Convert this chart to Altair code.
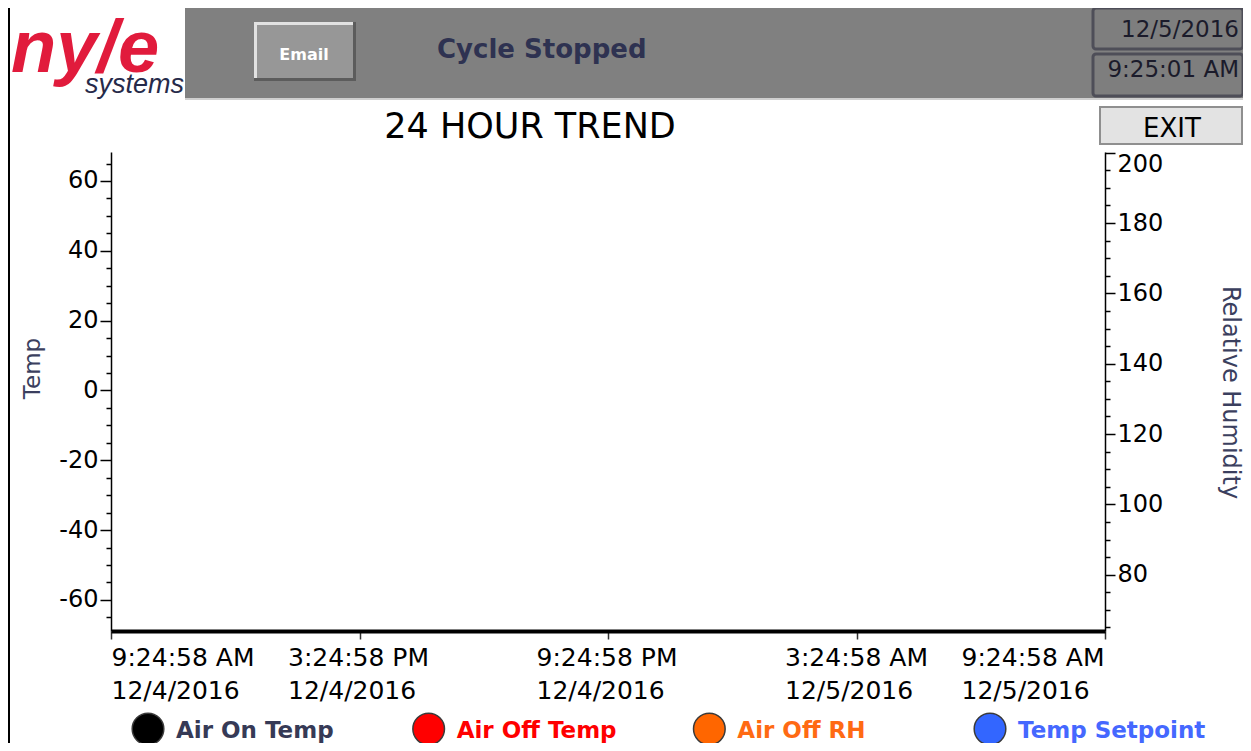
import altair as alt
import pandas as pd

# ---------------- data ----------------
series_names = ["Air On Temp", "Air Off Temp", "Air Off RH", "Temp Setpoint"]
series_colors = ["#000000", "#ff0000", "#ff6600", "#3366ff"]
legend_text_colors = ["#363a56", "#ff0000", "#ff6a13", "#4568ff"]
temp_series = ["Air On Temp", "Air Off Temp", "Temp Setpoint"]
rh_series = ["Air Off RH"]

# samples in the 24 hour window: the trend is empty (cycle stopped)
air_on_temp_times, air_on_temp_values = [], []
air_off_temp_times, air_off_temp_values = [], []
air_off_rh_times, air_off_rh_values = [], []
temp_setpoint_times, temp_setpoint_values = [], []

time_domain = ["2016-12-04 09:24:58", "2016-12-05 09:24:58"]
time_ticks = ["2016-12-04 09:24:58", "2016-12-04 15:24:58", "2016-12-04 21:24:58",
              "2016-12-05 03:24:58", "2016-12-05 09:24:58"]

temp_domain = [-68.9, 68.3]
temp_labels = [-60, -40, -20, 0, 20, 40, 60]
temp_ticks = [-65, -60, -55, -50, -45, -40, -35, -30, -25, -20, -15, -10, -5, 0,
              5, 10, 15, 20, 25, 30, 35, 40, 45, 50, 55, 60, 65]

rh_domain = [64, 200.2]
rh_labels = [80, 100, 120, 140, 160, 180, 200]
rh_ticks = [65, 70, 75, 80, 85, 90, 95, 100, 105, 110, 115, 120, 125, 130, 135,
            140, 145, 150, 155, 160, 165, 170, 175, 180, 185, 190, 195, 200]

chart_title = "24 HOUR TREND"
temp_axis_title = "Temp"
rh_axis_title = "Relative Humidity"
status_text = "Cycle Stopped"
clock_date = "12/5/2016"
clock_time = "9:25:01 AM"
email_button = "Email"
exit_button = "EXIT"
logo_main = "ny/e"
logo_sub = "systems"

# ---------------- layout (page pixels) ----------------
X0, Y0 = 111, 152          # plot-area origin on the page
PW, PH = 994, 479          # plot-area size
RIGHT, BOTTOM = 1243, 743  # page extent the chart may draw into
FONT = "DejaVu Sans"


def dt(s):
    t = pd.Timestamp(s)
    return alt.DateTime(year=t.year, month=t.month, date=t.day, hours=t.hour,
                        minutes=t.minute, seconds=t.second, utc=True)


ONE = pd.DataFrame({"k": [0]})


def rect(x1, y1, x2, y2, **kw):
    return alt.Chart(ONE).mark_rect(**kw).encode(
        x=alt.value(x1 - X0), x2=alt.value(x2 - X0),
        y=alt.value(y1 - Y0), y2=alt.value(y2 - Y0))


def label(txt, x, y, **kw):
    kw.setdefault("baseline", "alphabetic")
    return alt.Chart(pd.DataFrame({"t": [txt]})).mark_text(**kw).encode(
        x=alt.value(x - X0), y=alt.value(y - Y0), text="t:N")


def series_frame(names, times_list, values_list):
    rows = []
    for n, ts, vs in zip(names, times_list, values_list):
        for t, v in zip(ts, vs):
            rows.append({"time": t, "value": v, "series": n})
    return pd.DataFrame(rows, columns=["time", "value", "series"])


temp_df = series_frame(temp_series,
                       [air_on_temp_times, air_off_temp_times, temp_setpoint_times],
                       [air_on_temp_values, air_off_temp_values, temp_setpoint_values])
rh_df = series_frame(rh_series, [air_off_rh_times], [air_off_rh_values])

color_scale = alt.Scale(domain=series_names, range=series_colors)
x_scale = alt.Scale(type="utc", domain=[dt(s) for s in time_domain])

x_axis = alt.Axis(
    values=[dt(s) for s in time_ticks],
    labelExpr="[utcFormat(datum.value, '%-I:%M:%S %p'), utcFormat(datum.value, '%-m/%-d/%Y')]",
    labelAlign="left",
    labelOffset={"condition": [{"test": "datum.index < 0.01", "value": 0},
                               {"test": "datum.index > 0.99", "value": -144}],
                 "value": -72},
    labelOverlap=False, labelFlush=False,
    labelFont=FONT, labelFontSize=25, labelColor="black",
    labelLineHeight=33, labelBaseline="top", labelPadding=6,
    tickSize=8, tickColor="#333333", tickWidth=1.5,
    domainColor="black", domainWidth=4, grid=False, title=None)

label_expr = "datum.value % 20 === 0 ? toString(datum.value) : ''"

temp_axis = alt.Axis(
    orient="left", values=temp_ticks, labelExpr=label_expr, labelOverlap=False,
    tickSize={"condition": {"test": "datum.value % 20 === 0", "value": 11}, "value": 5},
    tickColor="black", tickWidth=1.5, domainColor="black", domainWidth=1.5,
    labelFont=FONT, labelFontSize=24, labelColor="black", labelPadding=2,
    grid=False, title=temp_axis_title, titleFont=FONT, titleFontSize=23,
    titleFontWeight="normal", titleColor="#3b3f5e", titleAngle=-90,
    titleX=32 - X0, titleY=368 - Y0, titleBaseline="middle", titleAlign="center")

rh_axis = alt.Axis(
    orient="right", values=rh_ticks, labelExpr=label_expr,
    labelOverlap=False, labelFlush=True,
    tickSize={"condition": {"test": "datum.value % 20 === 0", "value": 10}, "value": 5},
    tickColor="black", tickWidth=1.5, domainColor="black", domainWidth=1.5,
    labelFont=FONT, labelFontSize=24, labelColor="black", labelPadding=2,
    grid=False, title=rh_axis_title, titleFont=FONT, titleFontSize=24,
    titleFontWeight="normal", titleColor="#3b3f5e", titleAngle=90,
    titleX=1229 - (X0 + PW), titleY=392 - Y0, titleBaseline="middle", titleAlign="center")

temp_lines = alt.Chart(temp_df).mark_line(strokeWidth=2).encode(
    x=alt.X("time:T", scale=x_scale, axis=x_axis),
    y=alt.Y("value:Q", scale=alt.Scale(domain=temp_domain, nice=False, zero=False), axis=temp_axis),
    color=alt.Color("series:N", scale=color_scale, legend=None))

rh_lines = alt.Chart(rh_df).mark_line(strokeWidth=2).encode(
    x=alt.X("time:T", scale=x_scale, axis=None),
    y=alt.Y("value:Q", scale=alt.Scale(domain=rh_domain, nice=False, zero=False), axis=rh_axis),
    color=alt.Color("series:N", scale=color_scale, legend=None))

# ---------------- legend (bottom row) ----------------
legend_df = pd.DataFrame({"series": series_names, "fill": series_colors,
                          "textc": legend_text_colors})
legend_x = alt.X("series:N", axis=None,
                 scale=alt.Scale(type="point", domain=series_names,
                                 range=[148 - X0, 990 - X0], padding=0))
legend_dots = alt.Chart(legend_df).mark_point(
    shape="circle", filled=True, size=1000, stroke="#3a3a3a", strokeWidth=1.5, opacity=1
).encode(x=legend_x, y=alt.value(729 - Y0), fill=alt.Fill("fill:N", scale=None))
legend_text = alt.Chart(legend_df).mark_text(
    align="left", baseline="middle", dx=28, font=FONT, fontSize=23, fontWeight="bold"
).encode(x=legend_x, y=alt.value(731 - Y0), text="series:N",
         color=alt.Color("textc:N", scale=None))

# ---------------- header / frame ----------------
deco = [
    rect(185, 5, RIGHT, 98, color="#808080"),
    rect(185, 98, RIGHT, 100, color="#cfcfcf"),
    rect(254, 22, 356, 81, color="#5c5c5c"),
    rect(254, 22, 353, 78, color="#e2e2e2"),
    rect(257, 25, 353, 78, color="#979797"),
    label(email_button, 304, 60, font=FONT, fontSize=16, fontWeight="bold",
          color="white", align="center"),
    label(status_text, 437, 58, font=FONT, fontSize=26, fontWeight="bold",
          color="#2e3251", align="left"),
    rect(1093, 8, RIGHT, 49, color="#7e7e7e", stroke="#4e4e58", strokeWidth=3, cornerRadius=3),
    rect(1093, 54, RIGHT, 96, color="#7e7e7e", stroke="#4e4e58", strokeWidth=3, cornerRadius=3),
    label(clock_date, RIGHT - 4, 37, font=FONT, fontSize=23, color="#1b1b2b", align="right"),
    label(clock_time, RIGHT - 4, 77, font=FONT, fontSize=23, color="#1b1b2b", align="right"),
    rect(1100, 107, RIGHT - 1, 144, color="#e3e3e3", stroke="#8f8f8f", strokeWidth=2),
    label(exit_button, 1172, 137, font=FONT, fontSize=26, color="black", align="center"),
    label(logo_main, 11, 72, font="Liberation Sans", fontSize=74, fontStyle="italic",
          fontWeight="bold", color="#e11b3c", align="left"),
    label(logo_sub, 184, 93, font="Liberation Sans", fontSize=27, fontStyle="italic",
          color="#262a4a", align="right"),
    label(chart_title, 530, 138, font=FONT, fontSize=35, color="black", align="center"),
    alt.Chart(ONE).mark_rule(color="black", strokeWidth=2).encode(
        x=alt.value(9 - X0), y=alt.value(8 - Y0), y2=alt.value(BOTTOM - Y0)),
]

chart = alt.layer(*deco, temp_lines, rh_lines, legend_dots, legend_text).resolve_scale(
    x="independent", y="independent", color="independent", fill="independent"
).properties(
    width=PW, height=PH,
    padding={"left": X0 - 8, "top": Y0 - 8,
             "right": RIGHT - X0 - PW, "bottom": BOTTOM - Y0 - PH},
    autosize=alt.AutoSizeParams(type="none"),
    background="white",
).configure_view(stroke=None)

chart.save("out.html", embed_options={"renderer": "svg", "actions": False})
